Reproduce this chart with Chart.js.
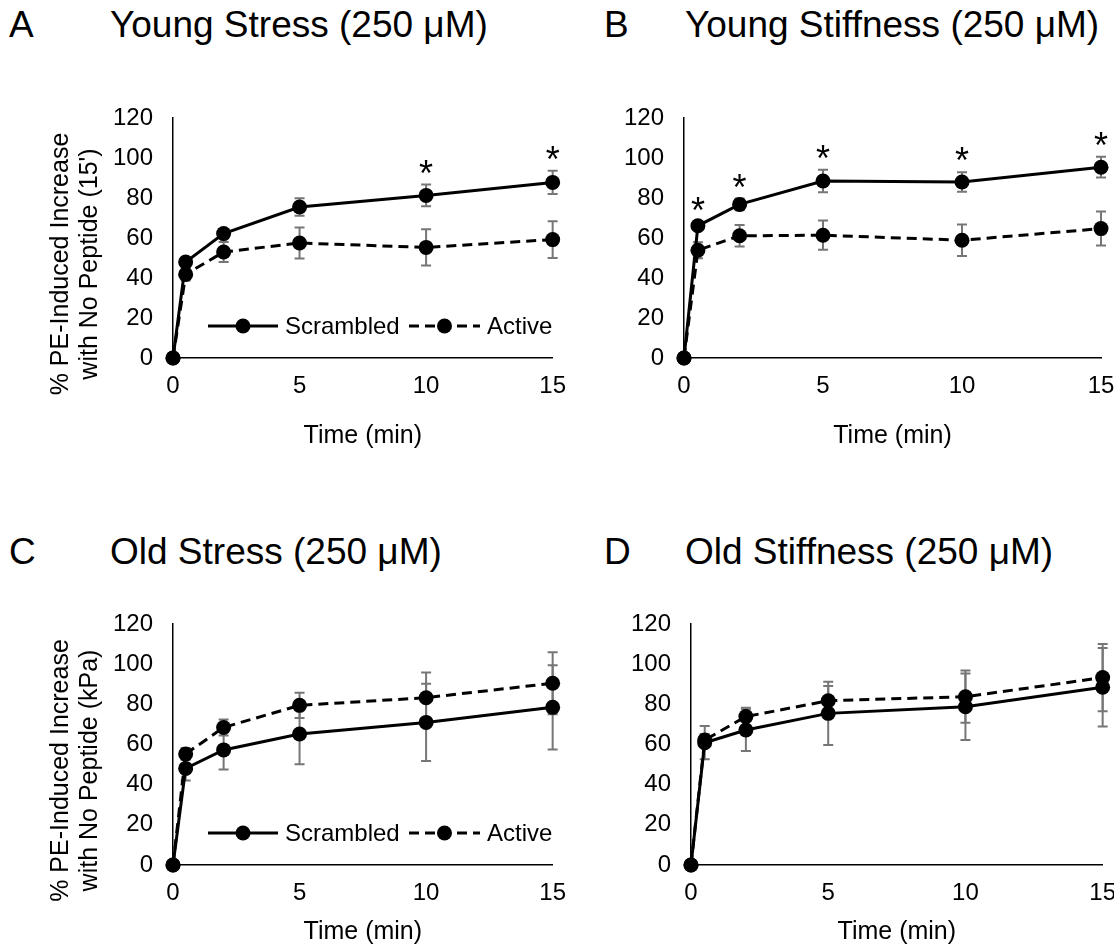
<!DOCTYPE html>
<html>
<head>
<meta charset="utf-8">
<script src="https://cdn.jsdelivr.net/npm/chart.js@4.4.1/dist/chart.umd.min.js"></script>
<style>
  html, body { margin: 0; padding: 0; background: #fff; overflow: hidden; width: 1114px; height: 948px; }
  body { position: relative; font-family: 'Liberation Sans', Arial, sans-serif; color: #000; }
  .panel-head { position: absolute; font-size: 37px; line-height: 1; white-space: nowrap; }
  canvas { position: absolute; }
</style>
</head>
<body>
<div class="panel-head" style="left:9px; top:6px;">A</div>
<div class="panel-head" style="left:110px; top:6px;">Young Stress (250 μM)</div>
<div class="panel-head" style="left:604px; top:6px;">B</div>
<div class="panel-head" style="left:685px; top:6px;">Young Stiffness (250 μM)</div>
<div class="panel-head" style="left:9px; top:533px;">C</div>
<div class="panel-head" style="left:110px; top:533px;">Old Stress (250 μM)</div>
<div class="panel-head" style="left:604px; top:533px;">D</div>
<div class="panel-head" style="left:685px; top:533px;">Old Stiffness (250 μM)</div>

<canvas id="chart-a"></canvas>
<canvas id="chart-b"></canvas>
<canvas id="chart-c"></canvas>
<canvas id="chart-d"></canvas>

<script>
// Time points and axis ticks
const timeMin = [0, 0.5, 2, 5, 10, 15];
const xTicks = [0, 5, 10, 15];
const yTicks = [0, 20, 40, 60, 80, 100, 120];
const seriesNames = ['Scrambled', 'Active'];

// A - Young Stress
const youngStressScrambled = [0, 48, 62.2, 75.5, 81.3, 87.8];
const youngStressScrambledErr = [0, 1.5, 2, 4.4, 5.4, 5.8];
const youngStressActive = [0, 41.8, 53, 57.5, 55.3, 59.2];
const youngStressActiveErr = [0, 3, 5, 7.8, 9.1, 9.2];
const youngStressSig = [false, false, false, false, true, true];

// B - Young Stiffness
const youngStiffScrambled = [0, 66.1, 76.8, 88.5, 88.0, 95.4];
const youngStiffScrambledErr = [0, 2, 2.9, 5.6, 4.9, 5.2];
const youngStiffActive = [0, 53.9, 61.1, 61.4, 58.9, 64.7];
const youngStiffActiveErr = [0, 4, 5.4, 7.3, 7.9, 8.5];
const youngStiffSig = [false, true, true, true, true, true];

// C - Old Stress
const oldStressScrambled = [0, 48.1, 57.3, 65.2, 71.0, 78.5];
const oldStressScrambledErr = [0, 6, 9.7, 15, 19.2, 21];
const oldStressActive = [0, 55.3, 68.5, 79.5, 83.3, 90.5];
const oldStressActiveErr = [0, 3, 4, 6.3, 12.5, 15.4];

// D - Old Stiffness
const oldStiffScrambled = [0, 60.9, 67.2, 75.5, 78.8, 88.5];
const oldStiffScrambledErr = [0, 8.3, 10.4, 15.7, 16.6, 19.5];
const oldStiffActive = [0, 62.2, 73.9, 81.8, 83.8, 93.3];
const oldStiffActiveErr = [0, 3, 4.4, 7.3, 13, 16.8];

const FONT = "'Liberation Sans', Arial, sans-serif";
const DASH = [10, 6];

/**
 * Error bars, drawn under the lines
 */
const errorBarPlugin = {
  id: 'errorBars',
  beforeDatasetsDraw(chart) {
    const { ctx } = chart;
    const yScale = chart.scales.y;
    ctx.save();
    ctx.strokeStyle = '#767676';
    ctx.lineWidth = 2;
    ctx.setLineDash([]);
    chart.data.datasets.forEach((ds, i) => {
      const meta = chart.getDatasetMeta(i);
      meta.data.forEach((pt, j) => {
        const err = ds.errors[j];
        if (!err) return;
        const v = ds.data[j].y;
        const top = yScale.getPixelForValue(v + err);
        const bot = yScale.getPixelForValue(v - err);
        ctx.beginPath();
        ctx.moveTo(pt.x, top);
        ctx.lineTo(pt.x, bot);
        ctx.moveTo(pt.x - 5, top);
        ctx.lineTo(pt.x + 5, top);
        ctx.moveTo(pt.x - 5, bot);
        ctx.lineTo(pt.x + 5, bot);
        ctx.stroke();
      });
    });
    ctx.restore();
  },
};

/**
 * Significance stars, legend and y title
 */
const extrasPlugin = {
  id: 'extras',
  afterDatasetsDraw(chart, args, opts) {
    const { ctx, chartArea } = chart;
    const yScale = chart.scales.y;
    ctx.save();
    ctx.fillStyle = '#000';

    // asterisks above the scrambled error bar
    if (opts.sig) {
      const ds = chart.data.datasets[0];
      const meta = chart.getDatasetMeta(0);
      ctx.font = `36px ${FONT}`;
      ctx.textAlign = 'center';
      ctx.textBaseline = 'alphabetic';
      opts.sig.forEach((s, j) => {
        if (!s) return;
        const cy = yScale.getPixelForValue(ds.data[j].y + ds.errors[j]) - 20;
        ctx.fillText('*', meta.data[j].x, cy + 21);
      });
    }

    // legend inside the plot
    if (opts.legend) {
      const cy = chartArea.bottom - 32;
      const x0 = chartArea.left;
      const names = chart.data.datasets.map((d) => d.label);
      const drawKey = (from, to, dash) => {
        ctx.lineWidth = 3;
        ctx.strokeStyle = '#000';
        ctx.setLineDash(dash);
        ctx.beginPath();
        ctx.moveTo(from, cy);
        ctx.lineTo(to, cy);
        ctx.stroke();
        ctx.setLineDash([]);
        ctx.beginPath();
        ctx.arc((from + to) / 2, cy, 7.5, 0, Math.PI * 2);
        ctx.fill();
      };
      ctx.font = `24px ${FONT}`;
      ctx.textAlign = 'left';
      ctx.textBaseline = 'middle';
      drawKey(x0 + 35, x0 + 105, []);
      ctx.fillText(names[0], x0 + 112, cy + 1);
      drawKey(x0 + 236, x0 + 307, DASH);
      ctx.fillText(names[1], x0 + 314, cy + 1);
    }

    // rotated two-line y axis title
    if (opts.yTitle) {
      const cy = (chartArea.top + chartArea.bottom) / 2 + 26;
      ctx.font = `25px ${FONT}`;
      ctx.textAlign = 'center';
      ctx.textBaseline = 'middle';
      opts.yTitle.forEach((line, k) => {
        ctx.save();
        ctx.translate(chartArea.left - 112 + k * 29, cy);
        ctx.rotate(-Math.PI / 2);
        ctx.fillText(line, 0, 0);
        ctx.restore();
      });
    }
    ctx.restore();
  },
};

/**
 * Build one panel; box = canvas on page, area = plot area on page
 */
function buildPanel(id, box, area, cfg) {
  const canvas = document.getElementById(id);
  canvas.width = box.width;
  canvas.height = box.height;
  canvas.style.left = `${box.left}px`;
  canvas.style.top = `${box.top}px`;

  const yAxisW = area.left - box.left;
  const xAxisH = box.top + box.height - area.bottom;
  const titlePad = box.top + box.height - cfg.xTitleY - 15;

  const toPoints = (vals) => timeMin.map((t, i) => ({ x: t, y: vals[i] }));

  return new Chart(canvas, {
    type: 'line',
    data: {
      datasets: [
        {
          label: seriesNames[0],
          data: toPoints(cfg.scrambled),
          errors: cfg.scrambledErr,
          borderColor: '#000',
          backgroundColor: '#000',
          borderWidth: 3,
          pointRadius: 7.5,
          pointBorderWidth: 0,
          pointBackgroundColor: '#000',
          clip: false,
          order: 1,
        },
        {
          label: seriesNames[1],
          data: toPoints(cfg.active),
          errors: cfg.activeErr,
          borderColor: '#000',
          backgroundColor: '#000',
          borderWidth: 3,
          borderDash: DASH,
          pointRadius: 7.5,
          pointBorderWidth: 0,
          pointBackgroundColor: '#000',
          clip: false,
          order: 0,
        },
      ],
    },
    options: {
      responsive: false,
      animation: false,
      devicePixelRatio: 1,
      layout: {
        padding: { left: 0, top: area.top - box.top, right: box.left + box.width - area.right, bottom: 0 },
      },
      plugins: {
        legend: { display: false },
        tooltip: { enabled: false },
        extras: { sig: cfg.sig, legend: cfg.legend, yTitle: cfg.yTitle },
      },
      scales: {
        x: {
          type: 'linear',
          min: 0,
          max: 15,
          afterBuildTicks: (s) => { s.ticks = xTicks.map((v) => ({ value: v })); },
          afterFit: (s) => { s.height = xAxisH; },
          grid: { display: false, drawTicks: false },
          border: { display: true, color: '#000', width: 1.5 },
          ticks: { color: '#000', font: { family: FONT, size: 24 }, padding: 14, maxRotation: 0, autoSkip: false },
          title: {
            display: true,
            text: 'Time (min)',
            color: '#000',
            font: { family: FONT, size: 25 },
            padding: { top: 0, bottom: titlePad },
          },
        },
        y: {
          type: 'linear',
          min: 0,
          max: 120,
          afterBuildTicks: (s) => { s.ticks = yTicks.map((v) => ({ value: v })); },
          afterFit: (s) => { s.width = yAxisW; },
          grid: { display: false, drawTicks: false },
          border: { display: true, color: '#000', width: 1.5 },
          ticks: { color: '#000', font: { family: FONT, size: 24 }, padding: 20 },
        },
      },
    },
    plugins: [errorBarPlugin, extrasPlugin],
  });
}

buildPanel('chart-a',
  { left: 0, top: 60, width: 580, height: 420 },
  { left: 173, top: 118, right: 562, bottom: 358 },
  {
    scrambled: youngStressScrambled, scrambledErr: youngStressScrambledErr,
    active: youngStressActive, activeErr: youngStressActiveErr,
    sig: youngStressSig, legend: true, xTitleY: 436,
    yTitle: ['% PE-Induced Increase', "with No Peptide (15')"],
  });

buildPanel('chart-b',
  { left: 590, top: 60, width: 540, height: 420 },
  { left: 684, top: 118, right: 1101, bottom: 358 },
  {
    scrambled: youngStiffScrambled, scrambledErr: youngStiffScrambledErr,
    active: youngStiffActive, activeErr: youngStiffActiveErr,
    sig: youngStiffSig, legend: false, xTitleY: 436,
  });

buildPanel('chart-c',
  { left: 0, top: 560, width: 580, height: 388 },
  { left: 173, top: 624, right: 562, bottom: 865 },
  {
    scrambled: oldStressScrambled, scrambledErr: oldStressScrambledErr,
    active: oldStressActive, activeErr: oldStressActiveErr,
    legend: true, xTitleY: 932,
    yTitle: ['% PE-Induced Increase', 'with No Peptide (kPa)'],
  });

buildPanel('chart-d',
  { left: 590, top: 560, width: 540, height: 388 },
  { left: 691, top: 624, right: 1108, bottom: 865 },
  {
    scrambled: oldStiffScrambled, scrambledErr: oldStiffScrambledErr,
    active: oldStiffActive, activeErr: oldStiffActiveErr,
    legend: false, xTitleY: 932,
  });
</script>
</body>
</html>
